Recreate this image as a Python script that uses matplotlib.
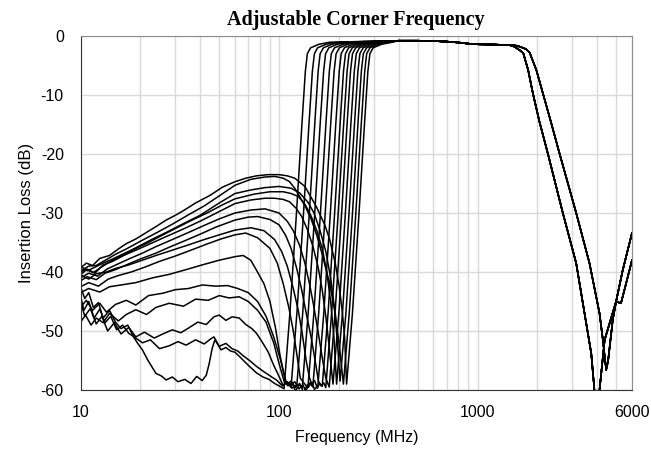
import matplotlib
matplotlib.use("Agg")
import matplotlib.pyplot as plt
from matplotlib.ticker import FixedLocator, NullFormatter

plt.rcParams["axes.unicode_minus"] = False

# ---- stopband parts (freq MHz, insertion loss dB) ----
c0_f = [10, 10.5, 11, 11.6, 12.3, 13, 14, 15, 16, 17.3, 18.5, 19.5, 20.5, 21.8, 23, 24, 25.5, 27, 29, 31,
        33.5, 36, 38.5, 41, 43, 44.5, 46, 47.5, 49, 51, 54, 57, 60, 64, 68, 72, 77, 83, 89, 95, 100, 106]
c0_db = [-42.5, -44.5, -43.5, -46, -45.2, -47.8, -46.5, -48.5, -49.6, -49, -51, -52.2, -53.2, -54.9, -56.2, -57.2, -57.6, -58.3, -57.8, -58.6,
         -58.2, -58.9, -57.7, -58.4, -57.5, -55.5, -53, -51.5, -52.2, -53.2, -52.8, -53.4, -53.6, -54.5, -55.4, -56.2, -57.1, -57.8, -58.2, -58.9, -59.3, -59.8]

c1_f = [10, 10.4, 11, 11.7, 12.5, 13.3, 14.2, 15.2, 16.3, 17.5, 19, 20.5, 22.5, 25, 28, 31, 34, 38, 42, 45, 47,
        50, 54, 58, 62, 66, 71, 77, 83, 90, 97, 104, 109, 115]
c1_db = [-44, -46.5, -45, -47.8, -46.3, -48.6, -47.5, -49.8, -49, -50.4, -51.2, -52, -51.5, -53, -52.5, -51.8, -52.4, -51.5, -52.2, -51.4, -51,
         -52.6, -52.1, -53, -53.4, -54.2, -55, -56, -56.8, -57.6, -58.3, -59.3, -58.7, -59.5]

c2_f = [10, 10.5, 11.2, 12, 12.8, 13.7, 14.8, 16, 17.5, 19, 21, 23.5, 26, 29, 32, 35, 39, 43, 47, 50, 54, 58, 63,
        68, 73, 77, 82, 88, 94, 100, 105, 110, 116, 123]
c2_db = [-45, -47.5, -46.2, -48.8, -47.5, -50, -48.6, -50.5, -49.4, -51, -50.2, -51.2, -50.5, -49.8, -50.3, -49.5, -48.5, -48.9, -47.6, -47.3, -48.2, -47.6, -47.8,
         -48.9, -49.6, -50.4, -51.8, -53.5, -55.8, -57.7, -59.3, -58.6, -59.7, -59.1]

c3_f = [10, 10.6, 11.3, 12, 13, 14, 15.5, 17, 19, 21.5, 24, 28, 33, 38, 44, 50, 56, 63, 70, 78, 86, 94, 100, 106,
        111, 116, 121, 126, 131]
c3_db = [-48.5, -47.3, -49, -47.8, -48.6, -47, -48.3, -47.2, -46.4, -47.2, -46, -45.3, -45.8, -44.6, -44.8, -44, -44.4, -44.2, -45, -46.5, -48.5, -52, -55.5, -58.5,
         -59.3, -58.7, -60.2, -59.1, -59.6]

c4_f = [10, 10.7, 11.5, 12.5, 13.5, 15, 17, 19, 22, 26, 30, 35, 41, 48, 55, 62, 70, 78, 86, 94, 102, 108,
        114, 120, 126, 132, 136, 140]
c4_db = [-46, -44.8, -46.5, -45.3, -46.8, -45.5, -44.8, -45.6, -44, -43.6, -43, -42.8, -42.2, -42.4, -42.3, -42.8, -43.5, -45, -47.5, -51, -55, -58.5,
         -59.2, -58.6, -59.8, -59.1, -60.2, -59.4]

c5_f = [10, 11, 12.5, 14, 16, 19, 23, 28, 34, 41, 50, 60, 66, 72, 77, 84, 90, 96, 101, 105, 109,
        115, 121, 127, 133, 138, 143, 148]
c5_db = [-43.5, -42.8, -43.4, -42.5, -42.2, -41.8, -41, -40.4, -39.6, -38.8, -38, -37.4, -37.2, -38, -39.7, -42, -45, -49.5, -54, -56.8, -59,
         -58.5, -59.6, -58.9, -60.4, -59.3, -58.8, -59.5]

c6_f = [10, 11, 12.3, 13.8, 15.5, 18, 21, 25, 30, 36, 43, 51, 60, 68, 78, 90, 98, 105, 112, 118, 123, 128,
        134, 140, 146, 151, 157]
c6_db = [-42.5, -41.8, -42.4, -41.2, -40.6, -40, -39.2, -38.2, -37.3, -36.3, -35.3, -34.4, -33.7, -33.4, -34.2, -36, -38.5, -42, -46, -50, -54, -58,
         -58.9, -59.6, -58.7, -59.9, -59.2]

c7_f = [10, 11, 12, 13.5, 15, 17.5, 20.5, 24, 29, 35, 42, 50, 60, 72, 84, 95, 103, 110, 118, 125, 131, 137, 142,
        146, 151, 156, 160, 165]
c7_db = [-40.5, -41.2, -40.3, -40, -39.4, -38.8, -38, -37.2, -36.3, -35.4, -34.5, -33.7, -32.9, -32.5, -33, -34.5, -36.5, -39, -42.8, -46.5, -50.5, -55, -57.8,
         -59, -58.4, -59.7, -58.9, -59.4]

c8_f = [10, 10.8, 12, 13.3, 15, 17, 20, 24, 28, 33, 40, 48, 60, 70, 78, 90, 100, 108, 115, 123, 130, 138, 145, 152, 158,
        163, 168, 172]
c8_db = [-41.5, -40.8, -41.3, -40.2, -39.6, -38.8, -37.8, -36.8, -35.8, -34.8, -33.6, -32.4, -31.2, -30.7, -30.6, -31.1, -32, -33.8, -36, -39.5, -43, -47.5, -51, -55, -58.5,
         -59.3, -58.8, -59.6]

c9_f = [10, 11, 12.2, 13.6, 15.3, 17.5, 20.5, 24, 29, 35, 42, 50, 60, 72, 85, 100, 110, 118, 127, 135, 143, 150, 158, 165, 172, 179]
c9_db = [-41, -40.2, -40.7, -39.5, -38.7, -37.8, -36.8, -35.7, -34.5, -33.3, -32.1, -31, -30, -29.5, -29.3, -30, -31.4, -33, -35.5, -38.5, -42.3, -46, -50.5, -54.5, -58, -59.5]

c10_f = [10, 10.8, 11.8, 13, 14.5, 16.5, 19, 22.5, 27, 33, 40, 49, 60, 72, 85, 95, 105, 113, 122, 130, 139, 148, 157, 165, 172, 178, 183, 187]
c10_db = [-40, -39.5, -40.2, -38.8, -38.2, -37.2, -36.3, -35.2, -34, -32.7, -31.4, -29.9, -28.4, -27.8, -27.5, -27.5, -27.7, -28.1, -29.2, -30.6, -32.8, -35.6, -39, -43, -47.5, -52, -56, -59]

c11_f = [10, 10.7, 11.6, 12.7, 14, 16, 18.5, 22, 26, 31, 37, 44, 52, 60, 75, 90, 105, 115, 125, 135, 145, 155, 165, 174, 182, 189, 195]
c11_db = [-40.5, -39.6, -40.1, -39.2, -38.3, -37.3, -36.2, -35, -33.7, -32.4, -31.1, -29.9, -28.6, -27.6, -26.8, -26.4, -26.4, -26.7, -27.2, -28.5, -30.5, -33, -36, -40, -45, -51, -59]

c12_f = [10, 10.8, 11.8, 13, 14.5, 16.5, 19, 22.5, 27, 33, 40, 50, 60, 72, 85, 100, 115, 127, 140, 150, 161, 172, 182, 190, 197, 203]
c12_db = [-39, -39.8, -39.2, -38.5, -37.8, -36.9, -35.9, -34.6, -33.3, -31.8, -30.4, -28.3, -26.7, -26.1, -25.7, -25.5, -25.8, -26.6, -28.2, -30, -33, -36.5, -41, -46, -52, -58.5]

c13_f = [10, 11, 12, 13.5, 15, 17, 20, 24, 29, 35, 42, 50, 60, 72, 85, 95, 105, 113, 120, 127, 136, 145, 155, 165, 180, 192, 202, 211]
c13_db = [-39.8, -39, -38.9, -37.9, -37, -36.1, -34.8, -33.4, -31.9, -30.3, -28.8, -27.1, -25.3, -24.3, -23.9, -23.8, -24.1, -24.7, -25.8, -27.2, -29, -31, -33.8, -37, -42, -47, -53, -59]

c14_f = [10, 10.7, 11.5, 12.5, 14, 15.5, 17, 19, 21, 24, 27, 30, 33, 38, 45, 52, 60, 68, 77, 88, 100, 110, 120, 135, 154, 170, 180, 192, 201, 208, 214, 219]
c14_db = [-39.3, -38.5, -38.9, -37.7, -37.2, -36.1, -35.2, -34.4, -33.5, -32.3, -31.2, -30.4, -29.6, -28.3, -27, -25.6, -24.7, -24.1, -23.7, -23.5, -23.5, -23.7, -24.1, -25.5, -28.9, -32, -34.5, -38.5, -42.5, -46.5, -51, -59]

# ---- rising (high-pass) edges, one per corner setting ----
rise_db = [-47, -31, -15, -6, -3, -2.0, -1.4, -1.05]
c0_rise = [113.4, 121.9, 130.4, 135.7, 138.9, 144.2, 159, 180.2]
c1_rise = [123, 132.3, 141.5, 147.2, 150.7, 156.4, 172.5, 195.5]
c2_rise = [131.6, 141.5, 151.3, 157.4, 161.1, 167.3, 184.5, 209.1]
c3_rise = [140.2, 150.7, 161.1, 167.7, 171.6, 178.2, 196.5, 222.7]
c4_rise = [149.8, 161, 172.2, 179.2, 183.4, 190.4, 210, 238]
c5_rise = [158.4, 170.2, 182, 189.4, 193.9, 201.3, 222, 251.6]
c6_rise = [168, 180.6, 193.1, 201, 205.7, 213.5, 235.5, 266.9]
c7_rise = [176.6, 189.8, 203, 211.2, 216.2, 224.4, 247.5, 280.5]
c8_rise = [184, 197.8, 211.6, 220.2, 225.3, 233.9, 258, 292.4]
c9_rise = [191.5, 205.9, 220.2, 229.1, 234.5, 243.4, 268.5, 304.3]
c10_rise = [200.1, 215, 230, 239.4, 245, 254.3, 280.5, 317.9]
c11_rise = [208.7, 224.3, 239.9, 249.6, 255.5, 265.2, 292.5, 331.5]
c12_rise = [217.2, 233.5, 249.7, 259.8, 265.9, 276.1, 304.5, 345.1]
c13_rise = [225.8, 242.7, 259.5, 270.1, 276.4, 287, 316.5, 358.7]
c14_rise = [234.3, 251.9, 269.4, 280.3, 286.9, 297.8, 328.5, 372.3]

# ---- common passband ----
pass_f = [400, 500, 600, 700, 800, 900, 1000, 1200, 1450]
pass_db = [-0.8, -0.8, -0.85, -0.95, -1.1, -1.3, -1.4, -1.45, -1.55]

# ---- two low-pass roll-offs ----
lpa_f = [1530, 1630, 1700, 1800, 1900, 2050, 2260, 2690, 3140, 3460, 3740, 3880, 3980, 4117, 4370, 4990, 5380, 6000]
lpa_db = [-1.8, -2.4, -2.9, -5.8, -9.7, -14.5, -19.9, -30, -38.5, -47, -53.8, -60, -64, -60, -51.5, -45, -39.8, -33.4]
lpb_f = [1550, 1630, 1750, 1830, 1980, 2134, 2340, 2588, 3141, 3664, 4117, 4280, 4447, 4550, 4800, 4990, 5280, 5500, 6000]
lpb_db = [-1.6, -1.8, -2.2, -2.8, -5.8, -9.7, -14.5, -19.9, -30, -38.5, -47, -51.5, -56.6, -55, -48.1, -45, -45.3, -43, -38]

curves = [
    (c0_f, c0_db, c0_rise, "A"), (c1_f, c1_db, c1_rise, "B"), (c2_f, c2_db, c2_rise, "A"),
    (c3_f, c3_db, c3_rise, "B"), (c4_f, c4_db, c4_rise, "A"), (c5_f, c5_db, c5_rise, "B"),
    (c6_f, c6_db, c6_rise, "A"), (c7_f, c7_db, c7_rise, "B"), (c8_f, c8_db, c8_rise, "A"),
    (c9_f, c9_db, c9_rise, "B"), (c10_f, c10_db, c10_rise, "A"), (c11_f, c11_db, c11_rise, "B"),
    (c12_f, c12_db, c12_rise, "A"), (c13_f, c13_db, c13_rise, "B"), (c14_f, c14_db, c14_rise, "A"),
]

fig = plt.figure(figsize=(6.51, 4.54), dpi=100)
ax = fig.add_axes([0.1237, 0.141, 0.8471, 0.7797])

for f, db, rf, grp in curves:
    if grp == "A":
        tf, tdb = lpa_f, lpa_db
    else:
        tf, tdb = lpb_f, lpb_db
    x = f + rf + pass_f + tf
    y = db + rise_db + pass_db + tdb
    ax.plot(x, y, color="black", lw=1.1)

ax.set_xscale("log")
ax.set_xlim(10, 6000)
ax.set_ylim(-60, 0)

ax.xaxis.set_major_locator(FixedLocator([10, 100, 1000, 6000]))
ax.set_xticklabels(["10", "100", "1000", "6000"])
minors = [m * d for d in (10, 100, 1000) for m in range(2, 10) if m * d < 6000]
ax.xaxis.set_minor_locator(FixedLocator(minors))
ax.xaxis.set_minor_formatter(NullFormatter())
ax.set_yticks([0, -10, -20, -30, -40, -50, -60])

ax.grid(True, which="both", color="#d9d9d9", lw=1.0)
ax.set_axisbelow(True)
ax.tick_params(which="both", length=0)
ax.tick_params(axis="y", pad=12)
ax.tick_params(axis="x", pad=11)
for lab in ax.get_xticklabels() + ax.get_yticklabels():
    lab.set_fontfamily("Liberation Sans")
    lab.set_fontsize(11.5)

for side in ["top", "right"]:
    ax.spines[side].set_color("#8c8c8c")
for side in ["left", "bottom"]:
    ax.spines[side].set_color("#333333")

ax.set_title("Adjustable Corner Frequency", fontfamily="Liberation Serif", fontweight="bold",
             fontsize=14.5, pad=8)
ax.set_xlabel("Frequency (MHz)", fontfamily="Liberation Sans", fontsize=11.5, labelpad=7)
ax.set_ylabel("Insertion Loss (dB)", fontfamily="Liberation Sans", fontsize=12, labelpad=5)

fig.savefig("out.png", dpi=100)
